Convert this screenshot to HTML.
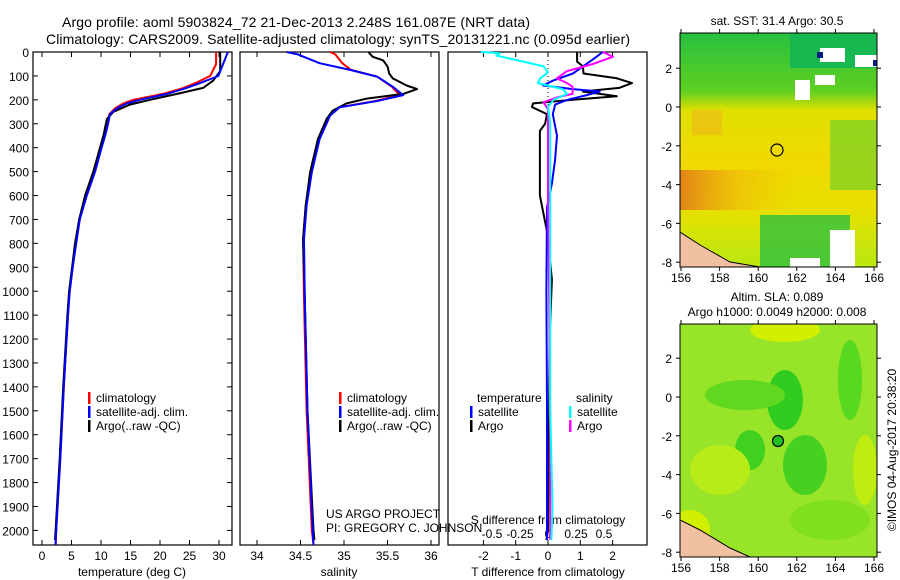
<!DOCTYPE html>
<html><head><meta charset="utf-8"><style>
html,body{margin:0;padding:0;background:#fff}
svg{display:block;font-family:"Liberation Sans",sans-serif}
</style></head><body>
<svg id="fig" width="900" height="580" viewBox="0 0 900 580" xmlns="http://www.w3.org/2000/svg">
<text x="62" y="27" font-size="14" textLength="468">Argo profile: aoml 5903824_72 21-Dec-2013 2.248S 161.087E (NRT data)</text>
<text x="46" y="44" font-size="14" textLength="584">Climatology: CARS2009. Satellite-adjusted climatology: synTS_20131221.nc (0.095d earlier)</text>

<g id="map1">
<text x="777" y="25" font-size="12" text-anchor="middle">sat. SST: 31.4 Argo: 30.5</text>
<defs>
<linearGradient id="g1" x1="0" y1="0" x2="0" y2="1">
<stop offset="0" stop-color="#28c040"/><stop offset="0.25" stop-color="#60d020"/><stop offset="0.33" stop-color="#e0e000"/><stop offset="0.55" stop-color="#f0d800"/><stop offset="0.75" stop-color="#e8e000"/><stop offset="1" stop-color="#b8e810"/>
</linearGradient>
<linearGradient id="g2" x1="0" y1="0" x2="1" y2="0">
<stop offset="0" stop-color="#e07818" stop-opacity="0.9"/><stop offset="0.5" stop-color="#f0b010" stop-opacity="0.5"/><stop offset="1" stop-color="#f0c000" stop-opacity="0"/>
</linearGradient>
<clipPath id="c1"><rect x="680" y="33" width="197" height="234"/></clipPath>
<clipPath id="c2"><rect x="680" y="324" width="197" height="233"/></clipPath>
</defs>
<g clip-path="url(#c1)">
<rect x="680" y="33" width="197" height="234" fill="url(#g1)"/>
<rect x="680" y="170" width="120" height="40" fill="url(#g2)"/>
<rect x="830" y="120" width="47" height="70" fill="#60d030" opacity="0.6"/>
<rect x="790" y="33" width="87" height="35" fill="#18b850"/>
<rect x="760" y="215" width="90" height="52" fill="#30c040" opacity="0.8"/>
<rect x="820" y="48" width="25" height="14" fill="#fff"/>
<rect x="855" y="55" width="22" height="12" fill="#fff"/>
<rect x="815" y="75" width="20" height="10" fill="#fff"/>
<rect x="795" y="80" width="15" height="20" fill="#fff"/>
<rect x="830" y="230" width="25" height="37" fill="#fff"/>
<rect x="790" y="258" width="30" height="9" fill="#fff"/>
<rect x="817" y="52" width="6" height="6" fill="#002080"/>
<rect x="873" y="60" width="6" height="6" fill="#002080"/>
<rect x="692" y="110" width="30" height="25" fill="#f0b020" opacity="0.5"/>
<polygon points="680,232 700,245 730,262 760,267 680,267" fill="#f0c0a0" stroke="#000" stroke-width="1"/>
</g>
<rect x="680" y="33" width="197" height="234" fill="none" stroke="#000"/>
<circle cx="777" cy="150" r="6" fill="none" stroke="#000" stroke-width="1.2"/>
</g>

<g id="map2">
<text x="777" y="301" font-size="12" text-anchor="middle">Altim. SLA: 0.089</text>
<text x="777" y="316" font-size="12" text-anchor="middle">Argo h1000: 0.0049 h2000: 0.008</text>
<g clip-path="url(#c2)">
<rect x="680" y="324" width="197" height="233" fill="#98e428"/>
<ellipse cx="785" cy="330" rx="35" ry="12" fill="#d0f000"/>
<ellipse cx="785" cy="400" rx="18" ry="30" fill="#30cc20"/>
<ellipse cx="745" cy="395" rx="40" ry="15" fill="#60d820"/>
<ellipse cx="750" cy="450" rx="15" ry="20" fill="#40d020"/>
<ellipse cx="805" cy="465" rx="22" ry="30" fill="#48d020"/>
<ellipse cx="850" cy="380" rx="12" ry="40" fill="#58d820"/>
<ellipse cx="865" cy="470" rx="12" ry="35" fill="#c0ec10"/>
<ellipse cx="720" cy="470" rx="30" ry="25" fill="#b8ec18"/>
<ellipse cx="690" cy="530" rx="20" ry="20" fill="#d0f000"/>
<ellipse cx="830" cy="520" rx="40" ry="20" fill="#80e020"/>
<polygon points="680,520 700,530 730,548 750,557 680,557" fill="#f0c0a0" stroke="#000" stroke-width="1"/>
</g>
<rect x="680" y="324" width="197" height="233" fill="none" stroke="#000"/>
<circle cx="778" cy="441" r="5.5" fill="#20c020" stroke="#000" stroke-width="1.2"/>
</g>
<text transform="translate(896,450) rotate(-90)" font-size="12" text-anchor="middle">©IMOS 04-Aug-2017 20:38:20</text>
<text x="326" y="518" font-size="12">US ARGO PROJECT</text>
<text x="326" y="532" font-size="12">PI: GREGORY C. JOHNSON</text>
<g id="plots"></g>
</svg>
<script>
// ---- data ----
const tempDepths = [0,50,100,130,150,175,200,215,235,260,300,350,400,500,600,700,800,900,1000,1100,1400,1700,2000,2060];
const tempSat    = [31.5,30.7,29.9,26.8,24.5,21.2,16.6,14.4,12.7,11.5,11.2,10.7,10.1,9.0,7.6,6.4,5.8,5.2,4.7,4.4,3.7,3.1,2.4,2.3];
const tempClim   = [29.5,29.5,28.5,26.0,24.0,20.5,15.5,13.8,12.4,11.4,11.1,10.6,10.0,8.9,7.5,6.3,5.7,5.2,4.7,4.4,3.7,3.1,2.4,2.3];
const argoTDepths= [0,80,120,150,175,200,220,250,280,350,500,600,700,800,900,1000,1100,1400,1700,2000,2040];
const tempArgo   = [30.2,30.2,29.0,27.3,22.9,18.3,14.9,12.1,11.0,10.4,8.7,7.3,6.3,5.6,5.1,4.6,4.3,3.6,3.0,2.3,2.2];

const salDepths  = [0,10,47,75,103,145,180,205,231,266,364,503,642,782,1033,1500,2000,2060];
const salSat     = [34.34,34.47,34.72,35.07,35.38,35.56,35.68,35.38,34.95,34.84,34.72,34.63,34.57,34.54,34.55,34.58,34.64,34.65];
const salClim    = [34.84,34.9,34.98,35.08,35.38,35.55,35.64,35.36,34.94,34.83,34.71,34.62,34.56,34.53,34.54,34.57,34.63,34.65];
const argoSDepths= [0,20,35,60,90,110,140,155,175,195,215,245,280,364,503,642,782,1033,1500,2000,2040];
const salArgo    = [35.28,35.33,35.45,35.5,35.52,35.56,35.72,35.84,35.68,35.26,35.03,34.87,34.8,34.7,34.61,34.56,34.53,34.55,34.58,34.65,34.66];

const dTDepthsA = [0,40,60,90,110,130,150,165,185,200,215,230,260,300,330,450,600,750,950,1200,1600,2000,2040];
const dTArgo    = [0.9,0.9,1.08,1.1,2.13,2.6,2.2,1.08,2.13,0.77,-0.46,-0.5,-0.03,-0.09,-0.25,-0.25,-0.25,-0.03,0.12,0.05,0.03,0.0,-0.05];
const dTDepthsS = [0,30,60,90,120,140,155,165,180,200,220,260,350,450,550,650,1000,1500,2000,2040];
const dTSat     = [1.7,1.4,1.08,0.77,0.15,-0.15,0.77,1.6,1.2,0.6,0.22,0.15,0.28,0.22,0.12,-0.03,-0.05,-0.03,-0.03,-0.03];
const dSDepthsS = [0,5,15,40,60,85,110,130,155,175,200,230,300,600,1000,1500,1900,2040];
const dSSat     = [-0.6,-0.43,-0.46,-0.22,-0.04,0,-0.07,-0.09,0.13,0.17,0.05,0,0.02,0.02,0.02,0.02,0.04,0.03];
const dSDepthsA = [0,20,50,80,110,130,145,175,190,210,240,300,600,1000,1500,2040];
const dSArgo    = [0.49,0.58,0.4,0.17,0.08,0.17,0.22,0.22,0.08,-0.04,0,0,0,0.01,0.02,0.02];

const depthTicks = [0,100,200,300,400,500,600,700,800,900,1000,1100,1200,1300,1400,1500,1600,1700,1800,1900,2000];
const tempTicks = [0,5,10,15,20,25,30];
const salTicks = [34,34.5,35,35.5,36];
const dTTicks = [-2,-1,0,1,2];
const dSTicks = [-0.5,-0.25,0,0.25,0.5];
const latTicks = [2,0,-2,-4,-6,-8];
const lonTicks = [156,158,160,162,164,166];

// ---- axes ----
const NS='http://www.w3.org/2000/svg';
const root=document.getElementById('plots');
const TOP=52, BOT=545;
const yD = d => TOP + d*0.2392;
const xT = t => 42 + 5.9*t;
const xS = s => 257 + 87*(s-34);
const xDT = v => 548 + 32.3*v;
const xDS = v => 548 + 112*v;
function el(tag, attrs, parent){const e=document.createElementNS(NS,tag);for(const k in attrs)e.setAttribute(k,attrs[k]);(parent||root).appendChild(e);return e;}
function txt(x,y,s,anchor,size,parent){const t=el('text',{x:x,y:y,'font-size':size||12,'text-anchor':anchor||'middle'},parent);t.textContent=s;return t;}
function line(depths, vals, fx, color, w, name){
  const pts=depths.map((d,i)=>fx(vals[i]).toFixed(1)+','+yD(d).toFixed(1)).join(' ');
  const p=el('polyline',{points:pts,fill:'none',stroke:color,'stroke-width':w||2,'stroke-linejoin':'round'});
  
  
}
const panels=[[33,232,'temperature-panel'],[240,439,'salinity-panel'],[448,647,'difference-panel']];
panels.forEach(([l,r,n])=>{
  const f=el('rect',{x:l,y:TOP,width:r-l,height:BOT-TOP,fill:'none',stroke:'#000','stroke-width':1.2});
  
  
  depthTicks.forEach(d=>{ if(n==='temperature-panel'){el('line',{x1:l,x2:l+5,y1:yD(d),y2:yD(d),stroke:'#000'});el('line',{x1:r,x2:r-5,y1:yD(d),y2:yD(d),stroke:'#000'});}});
});
depthTicks.forEach(d=>{
  const t=txt(29,yD(d)+5,String(d),'end',12);
  
  
});
function xticks(ticks,fx,y0,labY,top){
  ticks.forEach(v=>{
    el('line',{x1:fx(v),x2:fx(v),y1:BOT,y2:BOT-5,stroke:'#000'});
    if(top) el('line',{x1:fx(v),x2:fx(v),y1:TOP,y2:TOP+5,stroke:'#000'});
    const t=txt(fx(v),labY,String(v),'middle',12);
    
    
  });
}
xticks(tempTicks,xT,BOT,560,true);
xticks(salTicks,xS,BOT,560,true);
xticks(dTTicks,xDT,BOT,560,true);
dSTicks.forEach(v=>{
  const t=txt(xDS(v),538,String(v),'middle',12);
  
  
});
let a=txt(132,576,'temperature (deg C)');
a=txt(339,576,'salinity');
a=txt(548,576,'T difference from climatology');
a=txt(548,524,'S difference from climatology');
el('line',{x1:548,x2:548,y1:TOP,y2:140,stroke:'#000','stroke-dasharray':'1,3'});

// ---- series ----
line(tempDepths,tempClim,xT,'#f00',2,'temp-climatology-line');
line(argoTDepths,tempArgo,xT,'#000',2,'temp-argo-line');
line(tempDepths,tempSat,xT,'#00f',2,'temp-satellite-line');
line(salDepths,salClim,xS,'#f00',2,'sal-climatology-line');
line(argoSDepths,salArgo,xS,'#000',2,'sal-argo-line');
line(salDepths,salSat,xS,'#00f',2,'sal-satellite-line');
line(dTDepthsA,dTArgo,xDT,'#000',2,'tdiff-argo-line');
line(dTDepthsS,dTSat,xDT,'#00f',2,'tdiff-satellite-line');
line(dSDepthsA,dSArgo,xDS,'#f0f',2,'sdiff-argo-line');
line(dSDepthsS,dSSat,xDS,'#0ff',2,'sdiff-satellite-line');

// ---- legends ----
function leg(x,y,color,label,name){
  el('rect',{x:x,y:y-10,width:2.5,height:12,fill:color});
  const t=txt(x+8,y,label,'start',12);
  
  
}
[[88],[339]].forEach(([x])=>{
  leg(x,402,'#f00','climatology','legend-climatology');
  leg(x,416,'#00f','satellite-adj. clim.','legend-satellite-adj');
  leg(x,430,'#000','Argo(..raw -QC)','legend-argo');
});
a=txt(477,402,'temperature','start');
a=txt(576,402,'salinity','start');
leg(470,416,'#00f','satellite','legend-t-satellite');
leg(470,430,'#000','Argo','legend-t-argo');
leg(569,416,'#0ff','satellite','legend-s-satellite');
leg(569,430,'#f0f','Argo','legend-s-argo');

// ---- map axes ----
const svg=document.getElementById('fig');
function mapAxes(top,bottom,lat0y,labY){
  lonTicks.forEach(v=>{
    const x=681+19.3*(v-156);
    el('line',{x1:x,x2:x,y1:top,y2:top-4,stroke:'#000'},svg);
    el('line',{x1:x,x2:x,y1:bottom,y2:bottom+4,stroke:'#000'},svg);
    const t=txt(x,labY,String(v),'middle',12,svg);
    
    
  });
  latTicks.forEach(v=>{
    const y=lat0y-19.4*v;
    el('line',{x1:680,x2:676,y1:y,y2:y,stroke:'#000'},svg);
    el('line',{x1:877,x2:881,y1:y,y2:y,stroke:'#000'},svg);
    const t=txt(672,y+5,String(v),'end',12,svg);
    
    
  });
}
mapAxes(33,267,107,282);
mapAxes(324,557,397,572);
</script>
</body></html>
